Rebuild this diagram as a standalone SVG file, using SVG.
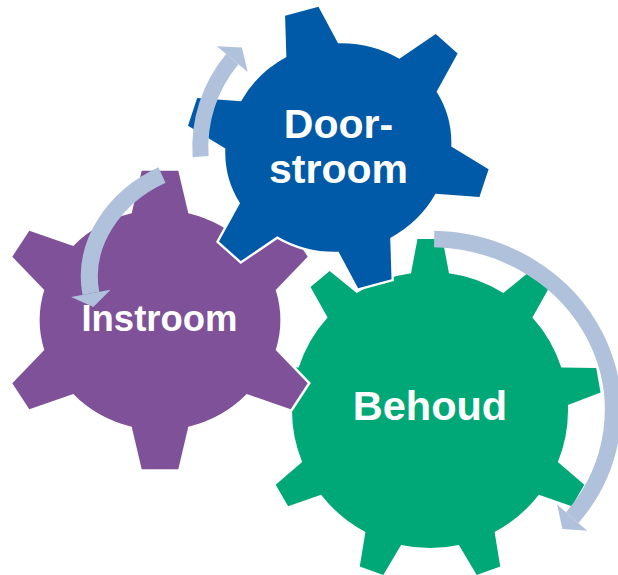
<svg xmlns="http://www.w3.org/2000/svg" width="618" height="575" viewBox="0 0 618 575">
  <style>
    .gear { stroke: #ffffff; stroke-width: 5; stroke-linejoin: miter; paint-order: stroke; }
    .label { font-family: "Liberation Sans", Arial, sans-serif; font-weight: bold; fill: #ffffff; text-anchor: middle; }
    .shaft { fill: none; stroke: #B0C1DB; stroke-linecap: butt; }
    .head { fill: #B0C1DB; }
  </style>
  <defs>
    <path id="gear6" d="M -28.3,-106.7 L -18.3,-149.3 L 18.3,-149.3 L 28.3,-106.7 A 119 109 0 0 1 86.7,-74 L 130.7,-89.3 L 147.7,-63.3 L 115.7,-30 A 119 109 0 0 1 115.7,30 L 147.7,63.3 L 130.7,89.3 L 86.7,74 A 119 109 0 0 1 28.3,106.7 L 18.3,149.3 L -18.3,149.3 L -28.3,106.7 A 119 109 0 0 1 -86.7,74 L -130.7,89.3 L -147.7,63.3 L -115.7,30 A 119 109 0 0 1 -115.7,-30 L -147.7,-63.3 L -130.7,-89.3 L -86.7,-74 A 119 109 0 0 1 -28.3,-106.7 Z"/>
  </defs>

  <g id="behoud">
    <path class="gear" fill="#00A878" transform="translate(430,410)" d="M -19,-136.7 L -12.5,-171 L 12.5,-171 L 19,-136.7 A 138 138 0 0 1 73.32,-116.92 L 100.34,-139.02 L 119.5,-122.95 L 102.42,-92.5 A 138 138 0 0 1 131.32,-42.44 L 166.23,-42 L 170.57,-17.38 L 137.92,-5.02 A 138 138 0 0 1 127.88,51.9 L 154.34,74.68 L 141.84,96.33 L 108.88,84.8 A 138 138 0 0 1 64.6,121.96 L 70.23,156.42 L 46.73,164.97 L 28.9,134.96 A 138 138 0 0 1 -28.9,134.96 L -46.73,164.97 L -70.23,156.42 L -64.6,121.96 A 138 138 0 0 1 -108.88,84.8 L -141.84,96.33 L -154.34,74.68 L -127.88,51.9 A 138 138 0 0 1 -137.92,-5.02 L -170.57,-17.38 L -166.23,-42 L -131.32,-42.44 A 138 138 0 0 1 -102.42,-92.5 L -119.5,-122.95 L -100.34,-139.02 L -73.32,-116.92 A 138 138 0 0 1 -19,-136.7 Z"/>
    <text class="label" x="430" y="420" font-size="41.5">Behoud</text>
  </g>

  <g id="instroom">
    <use href="#gear6" class="gear" fill="#7F5199" transform="translate(160,320)"/>
    <text class="label" x="159.5" y="331" font-size="36.5">Instroom</text>
  </g>

  <g id="doorstroom">
    <use href="#gear6" class="gear" fill="#015AA8" transform="translate(338.3,147.5) rotate(-15) scale(0.945)"/>
    <text class="label" x="338.5" y="138.3" font-size="41">Door-</text>
    <text class="label" x="338.5" y="182.7" font-size="41">stroom</text>
  </g>

  <g id="connectors">
    <path class="shaft" stroke-width="16.5" d="M 434.2 239 A 183 171 0 0 1 572.2 517.6"/>
    <polygon class="head" points="557.1,504.5 562.4,528.9 587.3,530.7"/>
    <path class="shaft" stroke-width="17" d="M 162 175 C 115.2 196.6 81.6 243 90.85 293.35"/>
    <polygon class="head" points="71.15,296.97 93.4,307.1 110.55,289.73"/>
    <path class="shaft" stroke-width="16" d="M 200.6 156.65 A 138 138 0 0 1 232.3 59.15"/>
    <polygon class="head" points="216.9,46.35 241.9,47.6 247.7,71.95"/>
  </g>
</svg>
